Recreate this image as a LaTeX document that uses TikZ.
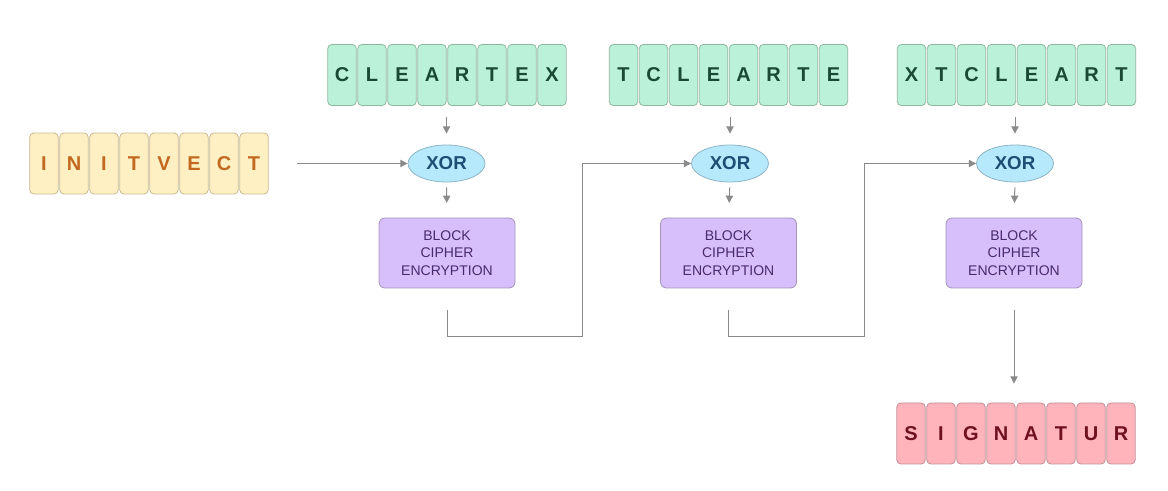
\documentclass[tikz,border=0pt]{standalone}
\usepackage{fontspec}
\setmainfont{Liberation Sans}
\usetikzlibrary{shapes.geometric,arrows.meta}
\definecolor{gFill}{HTML}{BBF1D9}
\definecolor{gDraw}{HTML}{8FB8A2}
\definecolor{gText}{HTML}{1A4A33}
\definecolor{yFill}{HTML}{FFF0C4}
\definecolor{yDraw}{HTML}{C9B98F}
\definecolor{yText}{HTML}{C2691F}
\definecolor{pFill}{HTML}{FFB4BB}
\definecolor{pDraw}{HTML}{C28F95}
\definecolor{pText}{HTML}{6E1020}
\definecolor{xFill}{HTML}{B5E9FB}
\definecolor{xDraw}{HTML}{8EB4C6}
\definecolor{xText}{HTML}{1E4E74}
\definecolor{bFill}{HTML}{D6BFFA}
\definecolor{bDraw}{HTML}{A593BC}
\definecolor{bText}{HTML}{4A2A6E}
\definecolor{lineC}{HTML}{8A8A8A}
\tikzset{
  tile/.style={rectangle, rounded corners=3pt, minimum width=21.3pt, minimum height=45.75pt, inner sep=0pt, line width=0.6pt, font=\fontsize{15}{18}\selectfont\bfseries},
  gtile/.style={tile, fill=gFill, draw=gDraw, text=gText},
  ytile/.style={tile, fill=yFill, draw=yDraw, text=yText},
  ptile/.style={tile, fill=pFill, draw=pDraw, text=pText},
  xorbox/.style={ellipse, minimum width=57.75pt, minimum height=27.75pt, inner sep=0pt, fill=xFill, draw=xDraw, line width=0.6pt, text=xText, font=\fontsize{14}{16}\selectfont\bfseries},
  cipher/.style={rectangle, rounded corners=4.5pt, minimum width=102pt, minimum height=52.5pt, inner sep=0pt, fill=bFill, draw=bDraw, line width=0.6pt, text=bText, align=center, font=\fontsize{10.5}{13}\selectfont},
  arr/.style={draw=lineC, line width=0.75pt, -{Triangle[width=5.5pt,length=5.5pt]}},
}
\begin{document}
\begin{tikzpicture}[x=0.75pt,y=-0.75pt]
\useasboundingbox (0,0) rectangle (1168,491);
% plaintext rows
\foreach \l [count=\i] in {I,N,I,T,V,E,C,T}
  \node[ytile] (iv\i) at ({44+30*(\i-1)},163.5) {\l};
\foreach \l [count=\i] in {C,L,E,A,R,T,E,X}
  \node[gtile] (pa\i) at ({342+30*(\i-1)},75) {\l};
\foreach \l [count=\i] in {T,C,L,E,A,R,T,E}
  \node[gtile] (pb\i) at ({623.5+30*(\i-1)},75) {\l};
\foreach \l [count=\i] in {X,T,C,L,E,A,R,T}
  \node[gtile] (pc\i) at ({911.5+30*(\i-1)},75) {\l};
\foreach \l [count=\i] in {S,I,G,N,A,T,U,R}
  \node[ptile] (sg\i) at ({911+30*(\i-1)},433.5) {\l};
% xor nodes
\node[xorbox] (x1) at (446.5,163.5) {XOR};
\node[xorbox] (x2) at (730,163.5) {XOR};
\node[xorbox] (x3) at (1015,163.5) {XOR};
% cipher blocks
\node[cipher] (b1) at (447,253) {BLOCK\\CIPHER\\ENCRYPTION};
\node[cipher] (b2) at (728.5,253) {BLOCK\\CIPHER\\ENCRYPTION};
\node[cipher] (b3) at (1014,253) {BLOCK\\CIPHER\\ENCRYPTION};
% corners of chaining connectors
\coordinate (c1) at (582,337);
\coordinate (c2) at (864,337);
% arrows
\draw[arr, shorten <=21pt] (iv8.east) -- (x1.west);
\foreach \r/\x in {pa/x1, pb/x2, pc/x3}
  \draw[arr, shorten <=8.25pt, shorten >=8.25pt] (\x.north |- \r4.south) -- (\x.north);
\foreach \x/\b in {x1/b1, x2/b2, x3/b3}
  \draw[arr, shorten <=3.75pt, shorten >=11pt] (\x.south) -- (\b.north);
\draw[arr, shorten <=16.5pt] (b1.south) |- (c1) |- (x2.west);
\draw[arr, shorten <=16.5pt] (b2.south) |- (c2) |- (x3.west);
\draw[arr, shorten <=16.5pt, shorten >=14.25pt] (b3.south) -- (b3.south |- sg4.north);
\end{tikzpicture}
\end{document}
